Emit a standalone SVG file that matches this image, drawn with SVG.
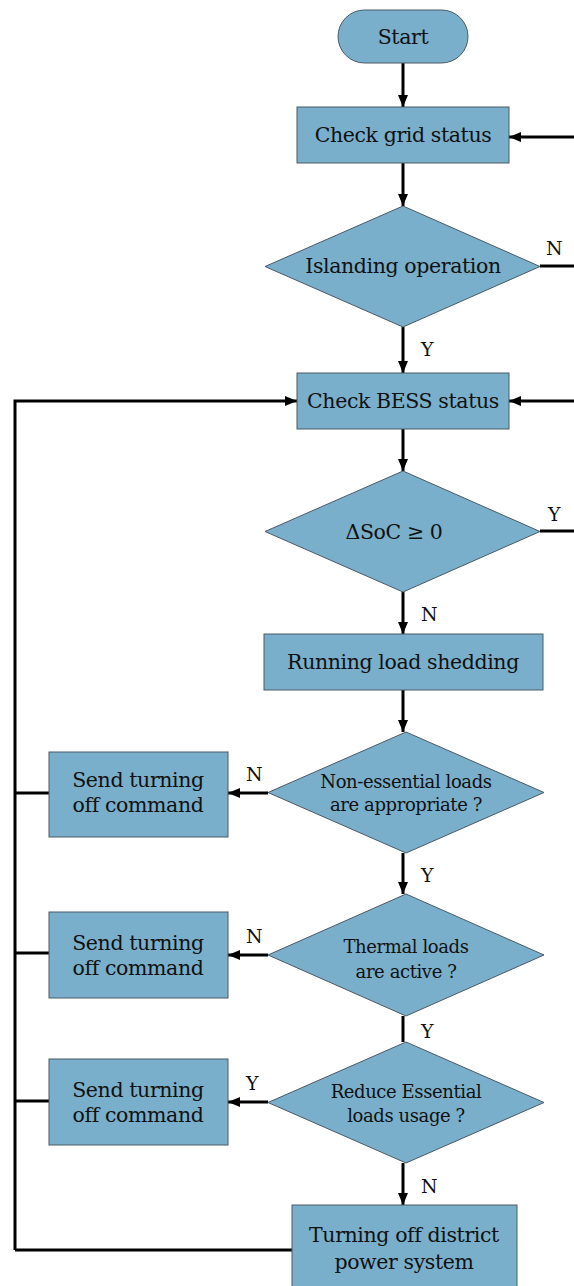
<svg xmlns="http://www.w3.org/2000/svg" width="574" height="1286" viewBox="0 0 574 1286">
  <defs>
    <marker id="arrow" viewBox="0 0 12 10" refX="12" refY="5" markerWidth="12" markerHeight="10" markerUnits="userSpaceOnUse" orient="auto">
      <path d="M0,0 L12,5 L0,10 Z" fill="#000"/>
    </marker>
  </defs>
  <style>
    text { font-family: 'DejaVu Serif', 'Liberation Serif', serif; fill: #111; }
    .shape { fill: #79afcb; stroke: #4a5a66; stroke-width: 1; }
    .label { font-size: 20.5px; letter-spacing: -0.4px; text-anchor: middle; }
    .small { font-size: 18px; letter-spacing: -0.4px; text-anchor: middle; }
    .yn { font-size: 19px; }
    .link { fill: none; stroke: #000; stroke-width: 3; }
    .arrowed { marker-end: url(#arrow); }
  </style>
  <rect width="574" height="1286" fill="#fff"/>

  <!-- connectors -->
  <g id="connectors">
    <line class="link arrowed" x1="403" y1="63" x2="403" y2="107"/>
    <line class="link arrowed" x1="574" y1="137" x2="509" y2="137"/>
    <line class="link arrowed" x1="403" y1="163" x2="403" y2="206"/>
    <line class="link" x1="540" y1="266" x2="574" y2="266"/>
    <line class="link arrowed" x1="403" y1="327" x2="403" y2="373"/>
    <line class="link arrowed" x1="574" y1="401" x2="509" y2="401"/>
    <polyline class="link arrowed" points="15,1250 15,401 297,401"/>
    <line class="link arrowed" x1="403" y1="429" x2="403" y2="471"/>
    <line class="link" x1="540" y1="531" x2="574" y2="531"/>
    <line class="link arrowed" x1="403" y1="592" x2="403" y2="634"/>
    <line class="link arrowed" x1="403" y1="690" x2="403" y2="732"/>
    <line class="link arrowed" x1="268" y1="793" x2="228" y2="793"/>
    <line class="link arrowed" x1="403" y1="853" x2="403" y2="894"/>
    <line class="link arrowed" x1="268" y1="955" x2="228" y2="955"/>
    <line class="link" x1="403" y1="1016" x2="403" y2="1042"/>
    <line class="link arrowed" x1="268" y1="1102" x2="228" y2="1102"/>
    <line class="link arrowed" x1="403" y1="1163" x2="403" y2="1205"/>
    <line class="link" x1="15" y1="793" x2="49" y2="793"/>
    <line class="link" x1="15" y1="953" x2="49" y2="953"/>
    <line class="link" x1="15" y1="1101" x2="49" y2="1101"/>
    <line class="link" x1="15" y1="1250" x2="292" y2="1250"/>
    <text class="yn" x="546" y="255">N</text>
    <text class="yn" x="421" y="356">Y</text>
    <text class="yn" x="548" y="521">Y</text>
    <text class="yn" x="421" y="621">N</text>
    <text class="yn" x="246" y="781">N</text>
    <text class="yn" x="421" y="882">Y</text>
    <text class="yn" x="246" y="943">N</text>
    <text class="yn" x="421" y="1038">Y</text>
    <text class="yn" x="246" y="1090">Y</text>
    <text class="yn" x="421" y="1193">N</text>
  </g>

  <g id="start">
    <rect class="shape" x="338" y="10" width="130" height="53" rx="26.5"/>
    <text class="label" x="403" y="44">Start</text>
  </g>
  <g id="check-grid">
    <rect class="shape" x="297" y="107" width="212" height="56"/>
    <text class="label" x="403" y="142">Check grid status</text>
  </g>
  <g id="islanding">
    <polygon class="shape" points="403,206 540,266.5 403,327 265,266.5"/>
    <text class="label" x="403" y="273">Islanding operation</text>
  </g>
  <g id="check-bess">
    <rect class="shape" x="297" y="373" width="212" height="56"/>
    <text class="label" x="403" y="408">Check BESS status</text>
  </g>
  <g id="soc">
    <polygon class="shape" points="403,471 540,531.5 403,592 265,531.5"/>
    <text class="label" x="394" y="539">ΔSoC ≥ 0</text>
  </g>
  <g id="load-shedding">
    <rect class="shape" x="264" y="634" width="279" height="56"/>
    <text class="label" x="403" y="669">Running load shedding</text>
  </g>
  <g id="non-essential">
    <polygon class="shape" points="406,732 544,792.5 406,853 268,792.5"/>
    <text class="small" x="406" y="788">Non-essential loads</text>
    <text class="small" x="406" y="811">are appropriate ?</text>
  </g>
  <g id="send-1">
    <rect class="shape" x="49" y="752" width="179" height="85"/>
    <text class="label" x="138" y="787">Send turning</text>
    <text class="label" x="138" y="812">off command</text>
  </g>
  <g id="thermal">
    <polygon class="shape" points="406,894 544,955 406,1016 268,955"/>
    <text class="small" x="406" y="953">Thermal loads</text>
    <text class="small" x="406" y="978">are active ?</text>
  </g>
  <g id="send-2">
    <rect class="shape" x="49" y="912" width="179" height="86"/>
    <text class="label" x="138" y="950">Send turning</text>
    <text class="label" x="138" y="975">off command</text>
  </g>
  <g id="reduce-essential">
    <polygon class="shape" points="406,1042 544,1102.5 406,1163 268,1102.5"/>
    <text class="small" x="406" y="1098">Reduce Essential</text>
    <text class="small" x="406" y="1122">loads usage ?</text>
  </g>
  <g id="send-3">
    <rect class="shape" x="49" y="1059" width="179" height="86"/>
    <text class="label" x="138" y="1097">Send turning</text>
    <text class="label" x="138" y="1122">off command</text>
  </g>
  <g id="turn-off">
    <rect class="shape" x="292" y="1205" width="225" height="90"/>
    <text class="label" x="404" y="1242">Turning off district</text>
    <text class="label" x="404" y="1269">power system</text>
  </g>
</svg>
